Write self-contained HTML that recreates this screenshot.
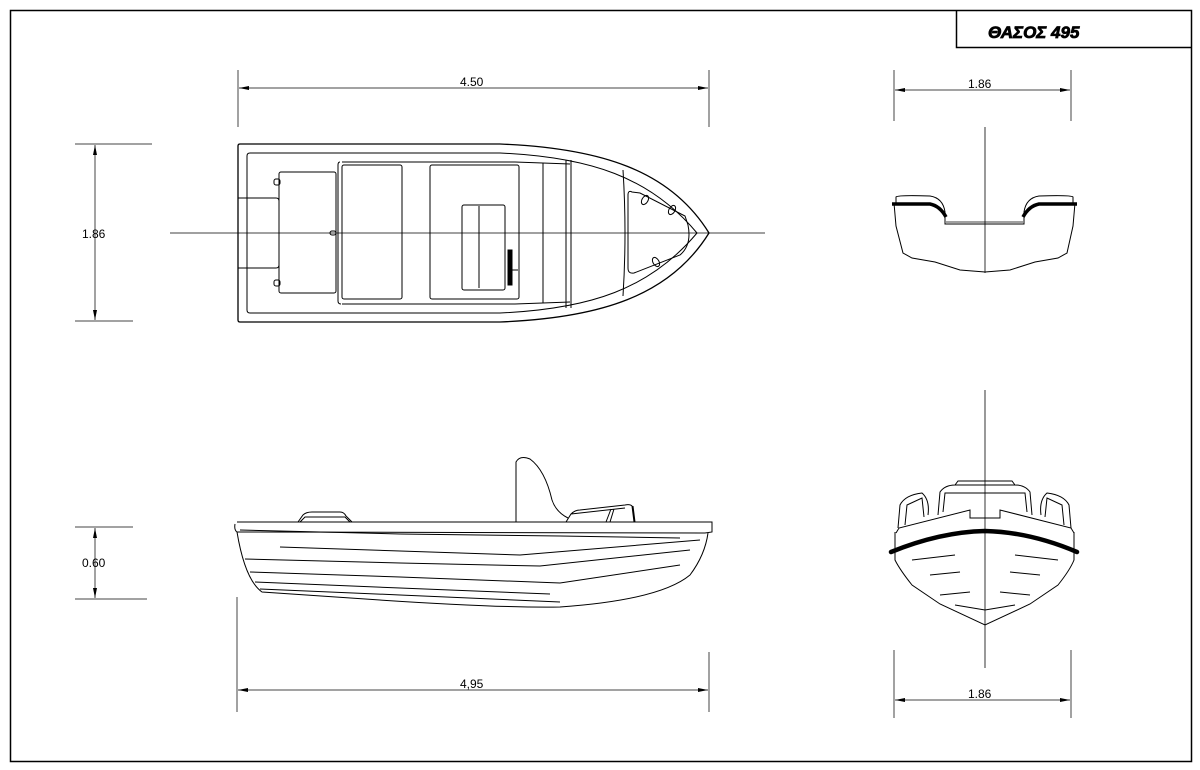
<!DOCTYPE html>
<html><head><meta charset="utf-8"><style>
html,body{margin:0;padding:0;background:#fff;}
svg{display:block;}
text{font-family:"Liberation Sans",sans-serif;font-size:12px;fill:#000;}
</style></head><body>
<svg width="1200" height="770" viewBox="0 0 1200 770" xmlns="http://www.w3.org/2000/svg">
<defs>
<marker id="a" viewBox="0 0 10 4" refX="10" refY="2" markerWidth="10" markerHeight="4" orient="auto-start-reverse" markerUnits="userSpaceOnUse"><path d="M0,0 L10,2 L0,4z" fill="#000"/></marker>
</defs>
<g fill="none" stroke="#000" stroke-width="1">
<rect x="10.5" y="10.5" width="1181" height="751" stroke-width="1.5"/>
<path d="M956.5 11 V47.5 H1191" stroke-width="1.5"/>

<g stroke="#444">
<path d="M238 70 V127 M709 70 V127"/>
<path d="M239 88 H708" marker-start="url(#a)" marker-end="url(#a)"/>
<path d="M75 144 H152 M75 321 H133"/>
<path d="M95 145 V320" marker-start="url(#a)" marker-end="url(#a)"/>
<path d="M894 70 V121 M1071 70 V121"/>
<path d="M895 90 H1070" marker-start="url(#a)" marker-end="url(#a)"/>
<path d="M75 527 H133 M75 599 H147"/>
<path d="M95 528 V598" marker-start="url(#a)" marker-end="url(#a)"/>
<path d="M237 597 V712 M709 652 V712"/>
<path d="M238 690 H708" marker-start="url(#a)" marker-end="url(#a)"/>
<path d="M894 650 V718 M1071 650 V718"/>
<path d="M895 700 H1070" marker-start="url(#a)" marker-end="url(#a)"/>
</g>

<path d="M170 233 H765" stroke-width="0.8"/>
<path d="M240 144 H500 C600 148 670 170 709 233 C670 296 600 318 500 322 H240 Q238 322 238 320 V146 Q238 144 240 144Z" stroke-width="1.3"/>
<path d="M250 153 H500 C590 157 650 177 697 233 C650 289 590 309 500 313 H250 Q247 313 247 310 V156 Q247 153 250 153Z"/>
<path d="M238 198 H276 Q279 198 279 201 V265 Q279 268 276 268 H238"/>
<rect x="279" y="172" width="57" height="121" rx="2"/>
<rect x="274" y="179" width="6" height="6" rx="2"/><rect x="274" y="280" width="6" height="6" rx="2"/>
<rect x="330" y="231" width="6" height="4" rx="2"/>
<path d="M342 162 H515 L570 164 M342 304 H515 L570 302 M340 162 Q338 162 338 165 V301 Q338 304 341 304"/>
<rect x="342" y="165" width="60" height="134" rx="2"/>
<rect x="430" y="165" width="89" height="134" rx="2"/>
<path d="M543 163 V303 M566 160 V308 M571 160 V308"/>
<rect x="462" y="205" width="43" height="85" rx="2"/>
<path d="M479 206 V288"/>
<rect x="508" y="250" width="4" height="35" fill="#000"/>
<path d="M512 270 H518"/>
<path d="M623 170 Q627 233 623 296"/>
<path d="M632 192 Q628 190 628 195 V268 Q628 274 634 273 L680 255 Q692 245 688 225 L685 216 L640 193Z"/>
<ellipse cx="645" cy="200" rx="3" ry="5" transform="rotate(30 645 200)"/>
<ellipse cx="672" cy="210" rx="3" ry="5" transform="rotate(30 672 210)"/>
<ellipse cx="656" cy="262" rx="3" ry="5" transform="rotate(-30 656 262)"/>

<path d="M237 522 H712 V532 L705 533 M235 524 Q234 530 237 532 L705 533"/>
<path d="M237 532 Q245 580 262 592 L380 600 Q500 608 560 607 Q660 600 690 575 Q705 555 708 533"/>
<path d="M240 530 L400 534 L560 536 L680 538 M280 547 L400 551 L520 555 L700 540 M245 559 L400 563 L540 566 L690 550 M250 572 L400 577 L560 583 L680 565 M255 582 L400 588 L550 594 M260 589 L400 595 L560 602"/>
<path d="M298 522 L303 515 Q306 512 312 512 H340 Q344 512 346 516 L352 522 M300 522 L305 517 H345 L350 522"/>
<path d="M516 522 V462 Q520 455 530 459 Q545 470 552 500 Q556 512 568 518"/>
<path d="M566 522 L571 514 Q575 510 580 510 L625 505 Q630 504 632 506 L634 522 M571 514 L625 508 M633 506 L635 522 M606 522 L611 509 M614 509 L610 522"/>

<path d="M985 127 V273" stroke-width="0.8"/>
<path d="M894 203 L896 226 L903 253 L912 258 L935 262 L960 270 L985 272 L1010 270 L1035 262 L1058 258 L1067 253 L1073 226 L1075 203"/>
<path d="M896 203 V197 Q898 195 930 196 Q943 198 945 212 V224 H1024 V212 Q1026 198 1039 196 Q1071 195 1073 197 V203"/>
<path d="M946 222 H1023" stroke-width="0.8"/>
<path d="M892 204 H930 Q940 206 946 217 M1077 204 H1039 Q1029 206 1023 217" stroke-width="3.5"/>

<path d="M985 390 V668" stroke-width="0.8"/>
<path d="M895 532 V560 Q900 570 912 585 L940 604 L985 625 L1030 604 L1058 585 Q1070 570 1074 560 V532"/>
<path d="M896 533 L899 528 L970 510 V518 H1000 V510 L1071 528 L1074 533"/>
<path d="M898 528 L900 505 Q905 495 922 493 Q930 500 928 515 M905 525 L907 505 L922 498 L924 517 M1071 528 L1069 505 Q1064 495 1047 493 Q1039 500 1041 515 M1064 525 L1062 505 L1047 498 L1045 517"/>
<path d="M938 515 L940 492 Q945 485 955 485 H1015 Q1025 485 1030 492 L1032 515 M943 512 L945 493 H1025 L1027 512 M955 485 L958 481 H1012 L1015 485"/>
<path d="M912 560 L955 555 M930 575 L960 572 M940 595 L970 592 M1058 560 L1015 555 M1040 575 L1010 572 M1030 595 L1000 592 M955 605 L985 610 L1015 605"/>
<path d="M891 552 Q940 532 985 531 Q1030 532 1077 552" stroke-width="4.5" stroke-linecap="round"/>
</g>

<g>
<text x="460" y="86">4.50</text>
<text x="82" y="238">1.86</text>
<text x="968" y="88">1.86</text>
<text x="82" y="567">0.60</text>
<text x="460" y="688">4,95</text>
<text x="968" y="698">1.86</text>
<text x="988" y="38" style="font-size:17px;font-weight:bold;font-style:italic;stroke:#000;stroke-width:0.8;">ΘΑΣΟΣ 495</text>
</g>
</svg>
</body></html>
